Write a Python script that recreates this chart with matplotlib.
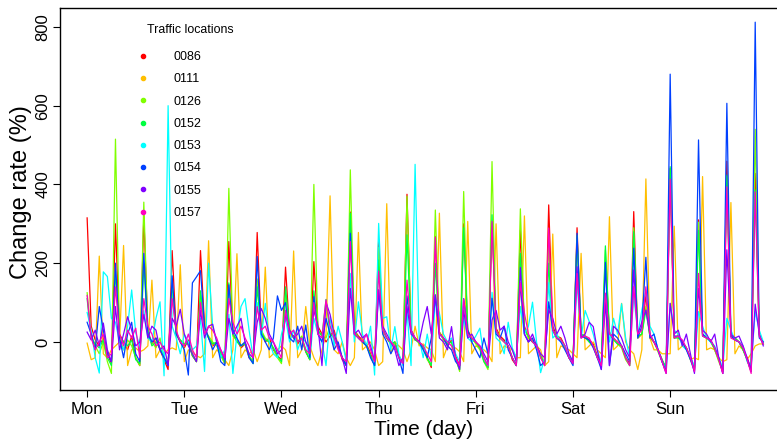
import numpy as np
import matplotlib
matplotlib.use("Agg")
import matplotlib.pyplot as plt
from matplotlib.lines import Line2D

plt.rcParams['font.family'] = ['Liberation Sans', 'DejaVu Sans']

# hourly change rate (%), 168 points (Mon 00h .. Sun 23h)
locations = ['0086', '0111', '0126', '0152', '0153', '0154', '0155', '0157']
colors = ['#FF0000', '#FFBF00', '#80FF00', '#00FF40', '#00FFFF', '#0040FF', '#8000FF', '#FF00BF']
day_labels = ['Mon', 'Tue', 'Wed', 'Thu', 'Fri', 'Sat', 'Sun']
day_ticks = [0, 24, 48, 72, 96, 120, 144]

s0086 = [315, 40, 5, -10, 10, -30, -55,
         300, 20, 0, -20, 15, -40, -60,
         320, 30, -5, 10, -20, -45, -70,
         232, 25, 0, -15, 5, -35, -50,
         232, 40, 10, -10, 0, -30, -55,
         255, 20, 5, -15, -5, -40, -50,
         278, 30, 0, 10, -20, -35, -45,
         190, 25, 15, -5, 10, -25, -45,
         204, 40, 20, 0, 15, 30, -10, -45, -60,
         330, 30, 15, 5, -5, -30, -60,
         259, 35, 10, -5, 0, -35, -55,
         375, 30, 5, 0, -10, -40, -65,
         268, 25, 10, -10, 5, -35, -60,
         300, 30, 10, 0, -15, -40, -65,
         300, 35, 15, 5, -10, -45, -60,
         284, 40, 10, 0, -5, -35, -60,
         348, 40, 15, 10, -10, -40, -55,
         290, 20, 15, 5, -5, -35, -50,
         200, 25, 10, -5, -10, -40, -55,
         331, 10, 20, 120, 10, 0, -20, -45, -70,
         440, 10, 15, 0, -15, -40, -70,
         310, 20, 10, 5, -20, -45, -75,
         459, 15, 10, 0, -20, -40, -70,
         428, 20, -5]

s0111 = [-3, -45, -40, 218, -30, -40, -20,
         -10, 0, 245, -60, -20, -15, -25,
         -20, -10, 157, -40, -20, -30, -20,
         -15, -20, 196, -50, -20, -25, -35,
         -40, -30, 257, -40, -20, -30, -45,
         -60, -20, 224, -40, -20, -30, -20,
         -50, -20, 190, -40, -30, -20, -10,
         -20, -60, 231, -40, -20, 90, -10,
         -40, -60, -20, 20, 371, -20, -30, 0, -40,
         -60, -40, 278, -20, -10, 0, -20,
         -60, -50, 351, -30, 0, -10, -20,
         -50, -20, 40, -10, -5, -15, -20,
         -50, 327, -40, -10, -20, -15, -25,
         -50, 306, -30, -10, -15, -20, -30,
         -50, 300, -30, -10, -15, -20, -40,
         -40, 320, -30, -20, -10, -20, -60,
         -50, 274, -40, -10, -15, -20, -30,
         -40, 225, -20, -10, 0, -20, -30,
         -40, 318, -20, -10, 98, 0, -20,
         -30, -70, -20, 414, 10, -20, -20, -30, -30,
         -30, 294, -20, -10, -15, -45, -40,
         -45, 420, -20, -15, -20, -40, -50,
         -45, 354, -30, -10, -20, -45, -30,
         -10, -5, -5]

s0126 = [125, 20, -10, -30, 0, -50, -80,
         515, 10, -20, 5, -10, -40, -60,
         355, 20, 0, -15, 10, -40, -55,
         120, 20, 5, -5, 0, -30, -50,
         120, 30, 15, 0, -10, -35, -55,
         390, 15, 5, -10, 0, -35, -50,
         160, 30, 10, 0, -15, -40, -55,
         120, 30, 10, 0, 15, -20, -45,
         400, 30, 15, 10, 40, 20, -10, -40, -60,
         437, 30, 10, 0, -10, -35, -60,
         240, 30, 10, 0, -5, -40, -55,
         370, 25, 10, -5, -10, -45, -60,
         335, 25, 5, -5, 0, -40, -75,
         382, 20, 10, -5, -20, -50, -70,
         458, 30, 10, 0, -10, -40, -60,
         338, 35, 10, 5, -10, -40, -55,
         250, 30, 15, 5, -15, -40, -55,
         260, 20, 10, 0, -10, -40, -60,
         234, 20, 10, -5, -15, -45, -60,
         290, 10, 20, 90, 15, 0, -25, -50, -70,
         440, 10, 15, 0, -15, -45, -70,
         304, 15, 10, 0, -20, -50, -75,
         420, 15, 5, 0, -20, -45, -75,
         540, 20, -5]

s0152 = [110, 10, -5, -15, 5, -40, -60,
         180, 15, 0, -10, 5, -45, -55,
         200, 25, -10, 0, -15, -40, -60,
         150, 20, 5, -5, -5, -35, -50,
         130, 35, 10, -5, 0, -30, -50,
         150, 20, 0, -10, -5, -35, -55,
         140, 25, 5, 0, -15, -35, -50,
         140, 30, 10, 0, 10, -25, -45,
         130, 30, 15, 108, 20, 10, -15, -40, -60,
         327, 25, 10, 0, -10, -35, -60,
         208, 30, 10, -5, 0, -35, -55,
         272, 25, 5, 0, -15, -40, -60,
         200, 20, 10, -5, 0, -45, -70,
         290, 25, 5, 0, -15, -50, -65,
         323, 30, 10, 0, -10, -40, -60,
         225, 30, 15, 0, -10, -35, -55,
         200, 30, 10, 5, -10, -40, -50,
         270, 20, 15, 0, -10, -40, -55,
         244, 20, 5, -5, -10, -40, -60,
         280, 15, 20, 80, 15, 0, -20, -45, -65,
         445, 10, 10, 0, -15, -40, -65,
         283, 15, 10, 0, -15, -45, -70,
         424, 15, 10, 0, -20, -45, -75,
         386, 15, -5]

s0153 = [75, 30, -40, -79, 178, 166, 60,
         50, 0, -20, 40, 132, 23, -10,
         80, 10, 0, 60, 102, -86, 600,
         40, 10, -30, 20, 0, -20, -10,
         60, -75, 200, 40, 0, -40, -20,
         70, -80, 20, 90, 110, 30, -40,
         100, 10, 98, 0, -30, -40, 20,
         60, 0, 30, -20, 10, 0, -40,
         60, 20, 0, -60, 64, -10, 40, 0, -50,
         174, 0, 102, 20, -10, 40, -84,
         301, 60, 64, -20, 39, -30, -60,
         80, -60, 451, 10, -40, 20, -40,
         100, 73, 20, 0, 10, -30, -50,
         60, 10, 0, 15, 35, -40, -60,
         126, 10, 0, -30, 50, -15, -40,
         90, 20, 40, 101, 0, -78, -40,
         151, 10, 20, 0, -10, -35, -55,
         150, 10, 80, 52, 20, -20, -54,
         120, 0, 60, 20, 97, 10, -40,
         120, 20, 81, 130, 40, 20, -20, -50, -70,
         98, 30, 20, -10, -20, -40, -60,
         77, 40, 10, 0, -10, -40, -65,
         60, 30, 5, 0, -10, -50, -60,
         77, 30, 0]

s0154 = [50, 20, -20, 90, 30, -30, -50,
         200, 10, -40, 20, 50, -30, -50,
         225, 20, 0, 10, -20, -40, -60,
         168, 20, 0, -20, -84, 150, 165,
         181, 40, 10, -20, 0, -50, -60,
         145, 30, 10, -10, 0, -40, -55,
         217, 20, 0, -20, 10, 117, 80,
         100, 10, 0, 40, -20, 43, -40,
         115, 20, 0, 60, 20, -20, 0, -40, -60,
         276, 20, 10, 0, -10, -40, -60,
         132, 20, 0, -30, -10, -40, -80,
         117, 30, 10, 0, -20, -40, 10,
         117, 20, 10, -10, -20, -50, -60,
         110, 30, 0, -20, -40, 10, -30,
         111, 20, 10, 40, -20, -40, -60,
         150, 20, 0, 10, -20, -60, -50,
         102, 30, 10, 0, -20, -40, -60,
         276, 15, 10, 5, -15, -40, -70,
         202, -60, 20, 10, -10, -30, -50,
         238, 10, 40, 215, 10, 20, -20, -50, -75,
         680, 15, 15, 0, -20, -45, -75,
         513, 20, 10, 5, -15, -40, -80,
         606, 15, 5, 0, -15, -45, -75,
         812, 10, 0]

s0155 = [25, 5, 30, -10, 48, -20, -50,
         90, -20, 20, 64, 30, -10, 0,
         70, 10, 40, 30, -20, -10, -60,
         60, 40, 83, 20, -10, -30, -50,
         80, 10, 40, 45, 0, -20, -45,
         60, 20, 40, 60, 0, -30, -40,
         50, 85, 60, 20, 0, -30, -20,
         70, 30, 10, 20, 40, 0, -20,
         80, 40, -60, 100, 70, 20, -10, -40, -80,
         136, 20, 30, 10, 20, -10, -50,
         132, 40, 20, 0, -20, -60, -40,
         90, 20, 10, 0, 50, 90, 20,
         120, 10, 0, -20, 39, -40, -70,
         80, 10, 20, 0, -10, -30, -50,
         56, 80, 30, 40, 0, -20, -50,
         189, 20, 0, 20, -10, -30, -40,
         81, 60, 20, 40, 10, -30, -50,
         191, 10, 20, 50, 39, -20, -70,
         100, -60, 40, 30, 10, -20, -40,
         183, 20, 50, 81, 20, 0, -20, -50, -80,
         98, 20, 30, -10, 20, -30, -80,
         136, 30, 20, 0, 20, -40, -80,
         234, 20, 10, 15, -10, -40, -70,
         96, 20, -10]

s0157 = [118, 10, -20, 0, 20, -40, -30,
         140, 20, -10, 30, 10, 35, -40,
         110, 40, 20, -10, 0, -20, -30,
         110, 30, 0, -10, 20, -20, -40,
         100, 20, 40, 30, 10, -20, -40,
         110, 50, 20, 40, 10, -10, -40,
         90, 30, 40, 10, 0, -20, -40,
         80, 20, 30, 0, 10, -20, -30,
         100, 20, 10, 107, 40, 10, -20, -40, -50,
         255, 20, 10, 0, 20, -20, -50,
         180, 30, 10, 0, -10, -40, -55,
         157, 30, 10, 0, -10, -30, -50,
         266, 20, 10, 0, -10, -40, -60,
         109, 20, 10, 0, -10, -40, -60,
         306, 30, 10, 0, -10, -40, -60,
         150, 73, 20, 0, -10, -40, -60,
         289, 30, 10, 5, -10, -40, -55,
         174, 10, 15, 10, -10, -40, -60,
         124, 20, 10, 0, -10, -40, -60,
         141, 20, 30, 140, 20, 0, -20, -50, -80,
         413, 10, 15, 5, -15, -40, -75,
         174, 15, 10, 5, -15, -45, -80,
         394, 10, 5, 0, -15, -45, -80,
         381, 15, -5]

series = [s0086, s0111, s0126, s0152, s0153, s0154, s0155, s0157]
hours = np.arange(len(s0086))

fig = plt.figure(figsize=(7.77, 4.43), dpi=100)
# right edge of the box sits just outside the picture, like the original
ax = fig.add_axes([60 / 777, 1 - 390 / 443, 728 / 777, 382 / 443])

for vals, col in zip(series, colors):
    ax.plot(hours, vals, color=col, linewidth=0.9)

ax.set_xlim(-6.7, 173.1)
ax.set_ylim(-122, 848)

ax.set_xticks(day_ticks)
ax.set_xticklabels(day_labels, fontsize=12)
ax.set_yticks([0, 200, 400, 600, 800])
ax.set_yticklabels(['0', '200', '400', '600', '800'], fontsize=12, rotation=90, va='center')
ax.tick_params(direction='out', length=5, width=0.8, pad=4)
ax.tick_params(axis='y', pad=2)

ax.set_xlabel('Time (day)', fontsize=15, labelpad=2)
ax.set_ylabel('Change rate (%)', fontsize=17)
ax.yaxis.set_label_coords(-0.039, 0.518)

for sp in ax.spines.values():
    sp.set_linewidth(1.0)

# legend: dots + codes, title as separate text
handles = [Line2D([], [], color=c, marker='o', markersize=3, linestyle='none') for c in colors]
ax.legend(handles, locations, loc='upper left', bbox_to_anchor=(0.102, 0.9),
          frameon=False, fontsize=9, handlelength=0.6, handletextpad=2.1,
          labelspacing=0.82, borderaxespad=0)
ax.text(0.1194, 0.942, 'Traffic locations', transform=ax.transAxes,
        fontsize=8.9, ha='left', va='center')

fig.savefig('out.png', dpi=100)
